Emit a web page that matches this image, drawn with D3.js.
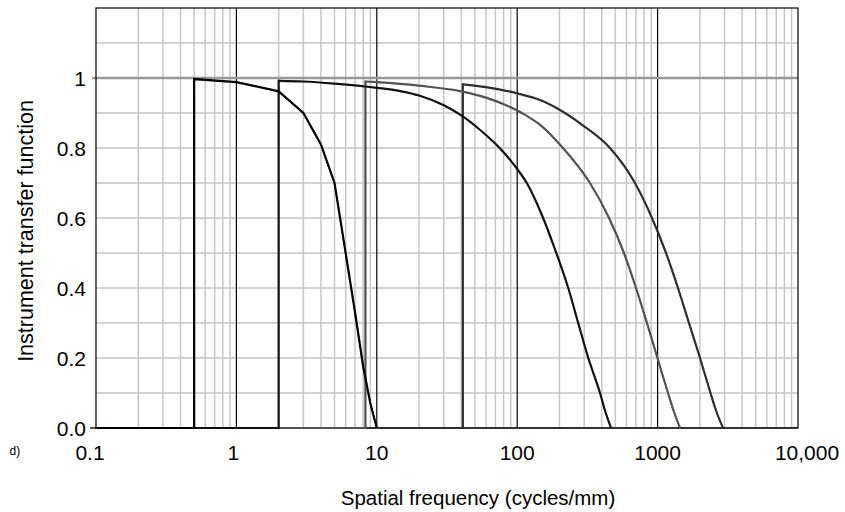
<!DOCTYPE html>
<html><head><meta charset="utf-8">
<script src="https://cdn.jsdelivr.net/npm/d3@7"></script>
<style>
html,body{margin:0;padding:0;background:#fff;}
svg{display:block;font-family:"Liberation Sans",Arial,sans-serif;}
</style></head><body>
<svg id="chart" width="845" height="512"></svg>
<script>
// ---- data ----
const xTickValues = [0.1, 1, 10, 100, 1000, 10000];
const xTickLabels = ["0.1", "1", "10", "100", "1000", "10,000"];
const yTickValues = [0, 0.2, 0.4, 0.6, 0.8, 1];
const yTickLabels = ["0.0", "0.2", "0.4", "0.6", "0.8", "1"];
const xTitle = "Spatial frequency (cycles/mm)";
const yTitle = "Instrument transfer function";
const panelLabel = "d)";

// [spatial frequency, transfer function]
const series1 = [[0.1,0],[0.5,0],[0.5,0.997],[1,0.988],[2,0.962],[3,0.9],[4,0.81],[5,0.70],[6,0.50],[7,0.33],[8,0.175],[9,0.07],[10,0]];
const series2 = [[0.1,0],[2,0],[2,0.992],[3,0.99],[5,0.984],[10,0.972],[15,0.962],[20,0.95],[30,0.922],[40,0.893],[55,0.85],[75,0.8],[100,0.74],[117,0.7],[153,0.6],[186,0.51],[231,0.4],[272,0.3],[321,0.2],[389,0.1],[422,0.05],[466,0]];
const series3 = [[0.1,0],[8.3,0],[8.3,0.99],[10,0.988],[20,0.978],[40,0.962],[60,0.944],[108,0.9],[150,0.862],[212,0.8],[330,0.7],[451,0.6],[576,0.5],[702,0.4],[840,0.3],[998,0.2],[1186,0.1],[1298,0.05],[1445,0]];
const series4 = [[0.1,0],[41,0],[41,0.982],[60,0.974],[100,0.956],[150,0.935],[219,0.9],[300,0.862],[458,0.8],[690,0.7],[912,0.6],[1148,0.5],[1397,0.4],[1673,0.3],[2005,0.2],[2381,0.1],[2606,0.05],[2924,0]];

// ---- styles ----
const seriesList = [
  {data: series4, color: "#2e2e2e", smooth: true},
  {data: series3, color: "#525252", smooth: true},
  {data: series2, color: "#111111", smooth: true},
  {data: series1, color: "#000000", smooth: false}
];

const svg = d3.select("#chart");
const x = d3.scaleLog().domain([0.1, 10000]).range([96, 798]);
const y = d3.scaleLinear().domain([0, 1.2]).range([428, 8]);

const g = svg.append("g");

// minor vertical grid
const allTicks = x.ticks();
const isPow10 = v => Math.abs(Math.log10(v) - Math.round(Math.log10(v))) < 1e-9;
g.selectAll(".vminor").data(allTicks.filter(v => !isPow10(v)))
  .enter().append("line")
  .attr("x1", d => x(d)).attr("x2", d => x(d))
  .attr("y1", y(1.2)).attr("y2", y(0))
  .attr("stroke", "#c6c6c6").attr("stroke-width", 1.5);

// horizontal grid
const hGrid = d3.range(1, 12).map(i => i / 10).filter(v => Math.abs(v - 1) > 1e-9);
g.selectAll(".hgrid").data(hGrid)
  .enter().append("line")
  .attr("x1", x(0.1)).attr("x2", x(10000))
  .attr("y1", d => y(d)).attr("y2", d => y(d))
  .attr("stroke", "#c6c6c6").attr("stroke-width", 1.5);

// major vertical grid
g.selectAll(".vmajor").data(xTickValues.slice(1, -1))
  .enter().append("line")
  .attr("x1", d => x(d)).attr("x2", d => x(d))
  .attr("y1", y(1.2)).attr("y2", y(0))
  .attr("stroke", "#000").attr("stroke-width", 1.2);

// y = 1 reference line
g.append("line")
  .attr("x1", x(0.1) - 4).attr("x2", x(10000))
  .attr("y1", y(1)).attr("y2", y(1))
  .attr("stroke", "#999").attr("stroke-width", 2.5);

// frame
g.append("rect")
  .attr("x", x(0.1)).attr("y", y(1.2))
  .attr("width", x(10000) - x(0.1)).attr("height", y(0) - y(1.2))
  .attr("fill", "none").attr("stroke", "#000").attr("stroke-width", 1.2);

// x axis baseline
g.append("line")
  .attr("x1", x(0.1) - 6).attr("x2", x(10000))
  .attr("y1", y(0)).attr("y2", y(0))
  .attr("stroke", "#222").attr("stroke-width", 1.5);

// curves
const lineLin = d3.line().x(d => x(d[0])).y(d => y(d[1]));
const lineSmooth = d3.line().x(d => x(d[0])).y(d => y(d[1])).curve(d3.curveMonotoneX);
seriesList.forEach(s => {
  if (s.smooth) {
    g.append("path").attr("d", lineLin(s.data.slice(0, 3)))
      .attr("fill", "none").attr("stroke", s.color).attr("stroke-width", 2.2)
      .attr("stroke-linejoin", "miter").attr("stroke-linecap", "square");
    g.append("path").attr("d", lineSmooth(s.data.slice(2)))
      .attr("fill", "none").attr("stroke", s.color).attr("stroke-width", 2.2)
      .attr("stroke-linejoin", "round").attr("stroke-linecap", "butt");
  } else {
    g.append("path").attr("d", lineLin(s.data))
      .attr("fill", "none").attr("stroke", s.color).attr("stroke-width", 2.2)
      .attr("stroke-linejoin", "miter");
  }
});

// y tick labels
g.selectAll(".ylab").data(yTickValues)
  .enter().append("text")
  .attr("x", 86).attr("y", d => y(d) + 7.5)
  .attr("text-anchor", "end").attr("font-size", 21).attr("fill", "#000")
  .text((d, i) => yTickLabels[i]);

// x tick labels
const xLabelShift = i => (i === 0 ? -6 : (i === 1 ? -3 : (i === xTickValues.length - 1 ? 9 : 0)));
g.selectAll(".xlab").data(xTickValues)
  .enter().append("text")
  .attr("x", (d, i) => x(d) + xLabelShift(i)).attr("y", 460)
  .attr("text-anchor", "middle").attr("font-size", 21).attr("fill", "#000")
  .text((d, i) => xTickLabels[i]);

// axis titles
g.append("text").attr("x", 478).attr("y", 505)
  .attr("text-anchor", "middle").attr("font-size", 20.5).attr("fill", "#000")
  .text(xTitle);
g.append("text")
  .attr("transform", "translate(33,231) rotate(-90)")
  .attr("text-anchor", "middle").attr("font-size", 21.5).attr("fill", "#000")
  .text(yTitle);

// panel label
g.append("text").attr("x", 9.5).attr("y", 455)
  .attr("font-size", 12).attr("fill", "#000")
  .text(panelLabel);
</script>
</body></html>
